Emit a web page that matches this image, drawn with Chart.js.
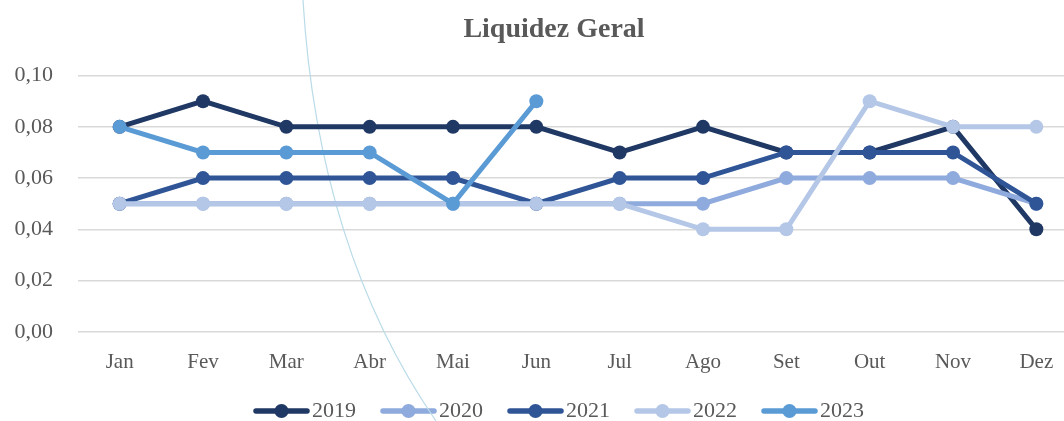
<!DOCTYPE html>
<html>
<head>
<meta charset="utf-8">
<script src="https://cdn.jsdelivr.net/npm/chart.js@4/dist/chart.umd.min.js"></script>
<style>
  html, body { margin: 0; padding: 0; background: #fff; overflow: hidden; }
  #wrap { width: 1104px; height: 421px; }
</style>
</head>
<body>
<div id="wrap"><canvas id="chart"></canvas></div>
<script>
const months = ['Jan', 'Fev', 'Mar', 'Abr', 'Mai', 'Jun', 'Jul', 'Ago', 'Set', 'Out', 'Nov', 'Dez'];
const years = ['2019', '2020', '2021', '2022', '2023'];
const colors = ['#203864', '#8faadc', '#2f5597', '#b4c7e7', '#5b9bd5'];

const v2019 = [0.08, 0.09, 0.08, 0.08, 0.08, 0.08, 0.07, 0.08, 0.07, 0.07, 0.08, 0.04];
const v2020 = [0.05, 0.05, 0.05, 0.05, 0.05, 0.05, 0.05, 0.05, 0.06, 0.06, 0.06, 0.05];
const v2021 = [0.05, 0.06, 0.06, 0.06, 0.06, 0.05, 0.06, 0.06, 0.07, 0.07, 0.07, 0.05];
const v2022 = [0.05, 0.05, 0.05, 0.05, 0.05, 0.05, 0.05, 0.04, 0.04, 0.09, 0.08, 0.08];
const v2023 = [0.08, 0.07, 0.07, 0.07, 0.05, 0.09];
const series = [v2019, v2020, v2021, v2022, v2023];

const FONT = '"Liberation Serif", "DejaVu Serif", serif';
const GREY = '#595959';

// legend marker: short line with a dot in the middle.
// drawn off-centre in a wider image so the text sits right next to it
function legendMark(color) {
  const c = document.createElement('canvas');
  c.width = 75;
  c.height = 16;
  const g = c.getContext('2d');
  g.strokeStyle = color;
  g.lineWidth = 5.5;
  g.lineCap = 'round';
  g.beginPath();
  g.moveTo(21, 8);
  g.lineTo(72, 8);
  g.stroke();
  g.fillStyle = color;
  g.beginPath();
  g.arc(46.5, 8, 7, 0, Math.PI * 2);
  g.fill();
  return c;
}

// faint curved stroke that runs across the original picture
const arcLine = {
  id: 'arcLine',
  beforeDatasetsDraw(chart) {
    const ctx = chart.ctx;
    ctx.save();
    ctx.strokeStyle = '#b9dbe8';
    ctx.lineWidth = 1.2;
    ctx.beginPath();
    ctx.moveTo(303, 0);
    ctx.quadraticCurveTo(318, 250, 436, 421);
    ctx.stroke();
    ctx.restore();
  },
};

// y labels stick out past the left padding; widen the label clip box
const unclipY = {
  id: 'unclipY',
  afterLayout(chart) {
    chart.scales.y.left = 0;
  },
};

const datasets = years.map((year, i) => ({
  label: year,
  data: series[i],
  borderColor: colors[i],
  backgroundColor: colors[i],
  pointBackgroundColor: colors[i],
  pointBorderColor: colors[i],
  borderWidth: 5,
  pointRadius: 7,
  pointBorderWidth: 0,
  tension: 0,
  order: years.length - i,
  legendMark: legendMark(colors[i]),
}));

new Chart(document.getElementById('chart'), {
  type: 'line',
  data: { labels: months, datasets },
  plugins: [arcLine, unclipY],
  options: {
    responsive: true,
    maintainAspectRatio: false,
    animation: false,
    layout: { padding: { left: 30, right: 26, top: 0, bottom: -11 } },
    plugins: {
      title: {
        display: true,
        text: 'Liquidez Geral',
        color: GREY,
        font: { family: FONT, size: 28, weight: 'bold' },
        padding: { top: 13, bottom: 29 },
      },
      legend: {
        position: 'bottom',
        labels: {
          usePointStyle: true,
          pointStyleWidth: 57,
          color: GREY,
          font: { family: FONT, size: 22 },
          padding: 15,
          generateLabels(chart) {
            return chart.data.datasets.map((ds, i) => ({
              text: ds.label,
              fillStyle: ds.borderColor,
              strokeStyle: ds.borderColor,
              fontColor: GREY,
              lineWidth: 0,
              pointStyle: ds.legendMark,
              datasetIndex: i,
              hidden: false,
            }));
          },
        },
      },
      tooltip: { enabled: false },
    },
    scales: {
      x: {
        offset: true,
        grid: { display: false },
        border: { display: false },
        ticks: { color: GREY, font: { family: FONT, size: 21, lineHeight: 1.2 }, padding: 10 },
      },
      y: {
        min: 0,
        max: 0.1,
        afterFit: (scale) => { scale.width = 48; },
        ticks: {
          stepSize: 0.02,
          color: GREY,
          font: { family: FONT, size: 22 },
          padding: 25,
          callback: (v) => v.toFixed(2).replace('.', ','),
        },
        grid: { color: '#d9d9d9', lineWidth: 1.5, drawTicks: false },
        border: { display: false },
      },
    },
  },
});
</script>
</body>
</html>
